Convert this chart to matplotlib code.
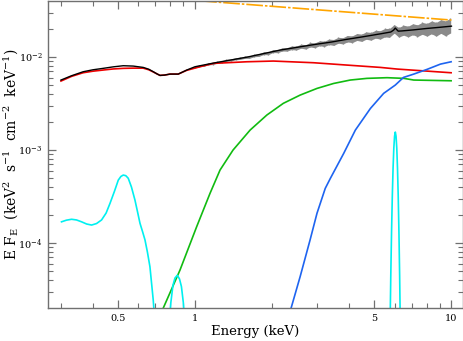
import matplotlib
matplotlib.use("Agg")
import matplotlib.pyplot as plt
from matplotlib.ticker import FixedLocator, NullFormatter, FixedFormatter

# ---- data (energy in keV, EF_E in keV^2 s^-1 cm^-2 keV^-1) ----
# observed spectrum (grey points with error bars)
data_E = [1.00, 1.04, 1.08, 1.12, 1.17, 1.22, 1.27, 1.32, 1.38, 1.44, 1.50, 1.56, 1.63, 1.70,
          1.77, 1.85, 1.93, 2.01, 2.10, 2.19, 2.28, 2.38, 2.48, 2.59, 2.70, 2.81, 2.93, 3.06,
          3.19, 3.33, 3.47, 3.62, 3.77, 3.93, 4.10, 4.28, 4.46, 4.65, 4.85, 5.06, 5.27, 5.50,
          5.73, 5.98, 6.23, 6.50, 6.78, 7.07, 7.37, 7.69, 8.02, 8.36, 8.72, 9.09, 9.48, 9.89]
data_F = [7.85e-3, 8.05e-3, 8.10e-3, 8.40e-3, 8.50e-3, 8.80e-3, 8.90e-3, 9.25e-3, 9.30e-3,
          9.60e-3, 9.70e-3, 9.95e-3, 1.00e-2, 1.04e-2, 1.05e-2, 1.10e-2, 1.10e-2, 1.16e-2,
          1.16e-2, 1.21e-2, 1.21e-2, 1.26e-2, 1.25e-2, 1.31e-2, 1.29e-2, 1.36e-2, 1.34e-2,
          1.41e-2, 1.39e-2, 1.46e-2, 1.44e-2, 1.52e-2, 1.50e-2, 1.58e-2, 1.56e-2, 1.65e-2,
          1.62e-2, 1.71e-2, 1.68e-2, 1.77e-2, 1.74e-2, 1.84e-2, 1.83e-2, 2.02e-2, 1.86e-2,
          1.96e-2, 1.90e-2, 2.01e-2, 1.94e-2, 2.06e-2, 1.99e-2, 2.11e-2, 2.02e-2, 2.16e-2,
          2.07e-2, 2.21e-2]
data_err = [0.15e-3, 0.16e-3, 0.17e-3, 0.18e-3, 0.19e-3, 0.20e-3, 0.21e-3, 0.22e-3, 0.24e-3,
            0.25e-3, 0.27e-3, 0.28e-3, 0.30e-3, 0.32e-3, 0.34e-3, 0.37e-3, 0.40e-3, 0.42e-3,
            0.45e-3, 0.48e-3, 0.52e-3, 0.56e-3, 0.60e-3, 0.65e-3, 0.70e-3, 0.75e-3, 0.80e-3,
            0.86e-3, 0.92e-3, 0.98e-3, 1.05e-3, 1.10e-3, 1.15e-3, 1.25e-3, 1.30e-3, 1.40e-3,
            1.45e-3, 1.55e-3, 1.60e-3, 1.70e-3, 1.80e-3, 1.90e-3, 2.00e-3, 2.10e-3, 2.20e-3,
            2.40e-3, 2.50e-3, 2.70e-3, 2.80e-3, 3.00e-3, 3.10e-3, 3.30e-3, 3.40e-3, 3.60e-3,
            3.80e-3, 4.00e-3]

# total model (black)
total_E = [0.30, 0.33, 0.366, 0.40, 0.438, 0.48, 0.525, 0.574, 0.628, 0.66, 0.688, 0.710,
           0.730, 0.76, 0.799, 0.86, 0.928, 1.0, 1.18, 1.6, 2.15, 2.9, 3.4, 3.9, 4.5, 5.3,
           5.8, 5.95, 6.04, 6.12, 6.2, 6.4, 7.1, 8.0, 9.0, 10.0]
total_F = [5.66e-3, 6.3e-3, 6.95e-3, 7.3e-3, 7.56e-3, 7.85e-3, 8.07e-3, 8.0e-3, 7.74e-3,
           7.4e-3, 6.95e-3, 6.6e-3, 6.35e-3, 6.4e-3, 6.56e-3, 6.56e-3, 7.25e-3, 7.87e-3,
           8.62e-3, 1.00e-2, 1.19e-2, 1.36e-2, 1.45e-2, 1.55e-2, 1.65e-2, 1.78e-2, 1.86e-2,
           1.95e-2, 2.05e-2, 1.97e-2, 1.90e-2, 1.91e-2, 1.96e-2, 2.03e-2, 2.09e-2, 2.15e-2]

# red component
red_E = [0.30, 0.33, 0.366, 0.40, 0.438, 0.48, 0.525, 0.574, 0.628, 0.66, 0.688, 0.710,
         0.730, 0.76, 0.799, 0.86, 0.928, 1.046, 1.18, 1.59, 2.02, 2.90, 3.91, 5.28, 6.14,
         9.97]
red_F = [5.52e-3, 6.2e-3, 6.78e-3, 7.05e-3, 7.25e-3, 7.45e-3, 7.56e-3, 7.6e-3, 7.6e-3,
         7.3e-3, 6.9e-3, 6.6e-3, 6.35e-3, 6.4e-3, 6.56e-3, 6.56e-3, 7.2e-3, 7.87e-3,
         8.55e-3, 8.9e-3, 9.06e-3, 8.69e-3, 8.2e-3, 7.74e-3, 7.43e-3, 6.78e-3]

# green component
green_E = [0.73, 0.752, 0.874, 1.015, 1.144, 1.252, 1.407, 1.64, 1.906, 2.21, 2.57, 2.99,
           3.47, 4.03, 4.68, 5.61, 6.52, 7.13, 9.97]
green_F = [1.5e-5, 2.0e-5, 5.13e-5, 1.50e-4, 3.42e-4, 6.1e-4, 1.0e-3, 1.64e-3, 2.38e-3,
           3.18e-3, 3.9e-3, 4.6e-3, 5.2e-3, 5.66e-3, 5.9e-3, 6.0e-3, 5.9e-3, 5.66e-3, 5.56e-3]

# blue component
blue_E = [2.30, 2.37, 2.57, 2.81, 2.99, 3.22, 3.37, 3.80, 4.22, 4.83, 5.44, 6.04, 6.5,
          7.13, 8.04, 9.06, 9.97]
blue_F = [1.5e-5, 2.0e-5, 4.35e-5, 1.08e-4, 2.09e-4, 3.87e-4, 4.95e-4, 9.2e-4, 1.64e-3,
          2.8e-3, 4.07e-3, 5.0e-3, 6.04e-3, 6.56e-3, 7.38e-3, 8.4e-3, 8.9e-3]

# cyan emission components (soft bump, 0.85 keV line, Fe line)
cyan_soft_E = [0.3015, 0.315, 0.330, 0.345, 0.361, 0.378, 0.395, 0.413, 0.432, 0.450, 0.466,
               0.485, 0.502, 0.514, 0.525, 0.537, 0.549, 0.565, 0.583, 0.597, 0.610, 0.624,
               0.638, 0.652, 0.667, 0.687, 0.70]
cyan_soft_F = [1.69e-4, 1.76e-4, 1.80e-4, 1.77e-4, 1.69e-4, 1.60e-4, 1.56e-4, 1.62e-4,
               1.77e-4, 2.10e-4, 2.67e-4, 3.60e-4, 4.75e-4, 5.20e-4, 5.38e-4, 5.30e-4,
               4.97e-4, 4.00e-4, 2.90e-4, 2.15e-4, 1.63e-4, 1.33e-4, 1.08e-4, 8.0e-5,
               5.56e-5, 2.44e-5, 1.2e-5]
cyan_mid_E = [0.79, 0.805, 0.82, 0.835, 0.853, 0.87, 0.885, 0.90, 0.915]
cyan_mid_F = [1.2e-5, 2.3e-5, 3.5e-5, 4.2e-5, 4.5e-5, 4.1e-5, 3.4e-5, 2.3e-5, 1.2e-5]
cyan_fe_E = [5.72, 5.76, 5.80, 5.84, 5.88, 5.92, 5.96, 6.00, 6.04, 6.08, 6.12, 6.16, 6.20,
             6.24, 6.28, 6.32, 6.36]
cyan_fe_F = [2.8e-6, 1.2e-5, 4.5e-5, 1.32e-4, 3.2e-4, 6.4e-4, 1.05e-3, 1.41e-3, 1.56e-3,
             1.41e-3, 1.05e-3, 6.4e-4, 3.2e-4, 1.32e-4, 4.5e-5, 1.2e-5, 2.8e-6]

# orange power law
orange_E = [0.30, 1.0, 10.0]
orange_F = [5.26e-2, 4.07e-2, 2.5e-2]

# ---- plot ----
plt.rcParams['font.family'] = 'DejaVu Serif'
plt.rcParams['mathtext.fontset'] = 'dejavuserif'

fig = plt.figure(figsize=(4.64, 3.41), dpi=100)
ax = fig.add_axes([0.1034, 0.0968, 0.8946, 0.900])

lo = [f - e for f, e in zip(data_F, data_err)]
hi = [f + e for f, e in zip(data_F, data_err)]
ax.fill_between(data_E, lo, hi, color='#8a8a8a', lw=0, zorder=1)
ax.vlines(data_E, lo, hi, color='#8a8a8a', lw=1.0, zorder=1)

ax.plot(total_E, total_F, color='black', lw=1.0, zorder=3)
ax.plot(red_E, red_F, color='#ee0000', lw=1.2, zorder=2)
ax.plot(green_E, green_F, color='#11bb11', lw=1.2, zorder=2)
ax.plot(blue_E, blue_F, color='#1e64f0', lw=1.2, zorder=2)
ax.plot(cyan_soft_E, cyan_soft_F, color='#00f0f0', lw=1.2, zorder=2)
ax.plot(cyan_mid_E, cyan_mid_F, color='#00f0f0', lw=1.2, zorder=2)
ax.plot(cyan_fe_E, cyan_fe_F, color='#00f0f0', lw=1.2, zorder=2)
ax.plot(orange_E, orange_F, color='#ffa500', lw=1.2, dashes=(10, 1.2, 1.5, 1.2), zorder=2)

ax.set_xscale('log')
ax.set_yscale('log')
ax.set_xlim(0.267, 11.1)
ax.set_ylim(2.0e-5, 4.0e-2)

ax.xaxis.set_major_locator(FixedLocator([0.5, 1, 5, 10]))
ax.xaxis.set_major_formatter(FixedFormatter(['0.5', '1', '5', '10']))
ax.xaxis.set_minor_locator(FixedLocator([0.3, 0.4, 0.6, 0.7, 0.8, 0.9, 2, 3, 4, 6, 7, 8, 9]))
ax.xaxis.set_minor_formatter(NullFormatter())
ax.yaxis.set_major_locator(FixedLocator([1e-4, 1e-3, 1e-2]))
ax.yaxis.set_major_formatter(FixedFormatter(['$10^{-4}$', '$10^{-3}$', '$10^{-2}$']))
ax.yaxis.set_minor_locator(FixedLocator([3e-5, 4e-5, 5e-5, 6e-5, 7e-5, 8e-5, 9e-5,
                                         2e-4, 3e-4, 4e-4, 5e-4, 6e-4, 7e-4, 8e-4, 9e-4,
                                         2e-3, 3e-3, 4e-3, 5e-3, 6e-3, 7e-3, 8e-3, 9e-3,
                                         2e-2, 3e-2]))
ax.yaxis.set_minor_formatter(NullFormatter())

for s in ax.spines.values():
    s.set_color('#707070')
    s.set_linewidth(1.0)
ax.tick_params(which='both', direction='in', top=True, right=True, color='#707070',
               labelsize=7, pad=4)
ax.tick_params(which='major', length=6, width=0.9)
ax.tick_params(which='minor', length=3.5, width=0.8)

ax.set_xlabel('Energy (keV)', fontsize=9.5, labelpad=2)
ax.set_ylabel('E F$_\\mathrm{E}$  (keV$^2$  s$^{-1}$  cm$^{-2}$  keV$^{-1}$)', fontsize=10)
ax.yaxis.set_label_coords(-0.066, 0.5)

fig.savefig('out.png', dpi=100)
